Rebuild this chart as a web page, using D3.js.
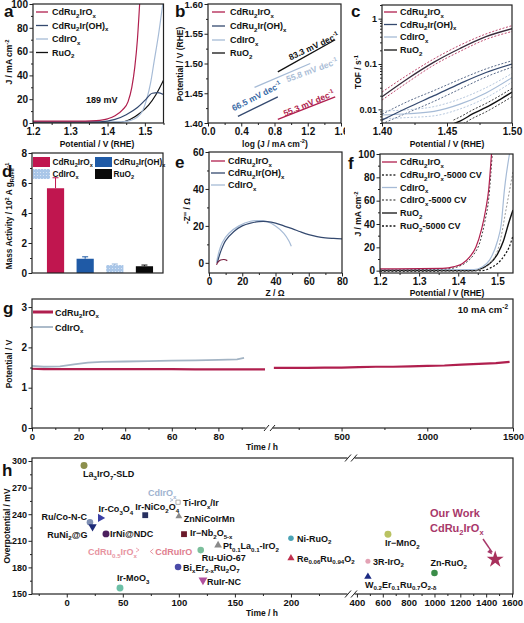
<!DOCTYPE html>
<html><head><meta charset="utf-8">
<script src="https://cdn.jsdelivr.net/npm/d3@7"></script>
<style>
body{margin:0;background:#fff}
svg{display:block}
text{font-family:Arial,"Liberation Sans",sans-serif;font-weight:bold}
</style></head>
<body><svg id="c" width="524" height="623"></svg>
<script>
// ---------------- DATA ----------------
// (a) LSV
const aPot_CdRu2IrOx = [1.20,1.34,1.37,1.40,1.42,1.44,1.455,1.465,1.473,1.48,1.486];
const aJ_CdRu2IrOx   = [1.5,1.6,2.0,3.5,6,11,18,30,47,70,100];
const aPot_CdRu2IrOH = [1.20,1.38,1.42,1.45,1.48,1.50,1.52,1.535,1.55];
const aJ_CdRu2IrOH   = [1.0,1.0,3,7,13,19,25,25.5,24];
const aPot_CdIrOx    = [1.20,1.44,1.46,1.48,1.495,1.505,1.515,1.525,1.537,1.548];
const aJ_CdIrOx      = [1.0,1.0,2,5,11,20,33,52,75,100];
const aPot_RuO2      = [1.20,1.43,1.46,1.49,1.51,1.53,1.55];
const aJ_RuO2        = [0.3,0.5,3,9,15,24,36];
const aLegend = ["CdRu_{2}IrO_{x}","CdRu_{2}Ir(OH)_{x}","CdIrO_{x}","RuO_{2}"];
// (b) Tafel
const bLogJ_CdRu2IrOx = [0.84,1.53]; const bPot_CdRu2IrOx = [1.406,1.444];
const bLogJ_CdRu2IrOH = [0.36,0.84]; const bPot_CdRu2IrOH = [1.411,1.444];
const bLogJ_CdIrOx    = [0.56,1.23]; const bPot_CdIrOx    = [1.460,1.500];
const bLogJ_RuO2      = [0.84,1.53]; const bPot_RuO2      = [1.486,1.540];
const bSlopes = ["55.3","66.5","55.8","83.3"];
// (c) TOF
const cPot = [1.40,1.42,1.44,1.46,1.48,1.50];
const cTOF_CdRu2IrOx   = [0.019,0.048,0.11,0.22,0.40,0.60];
const cTOFhi_CdRu2IrOx = [0.024,0.058,0.13,0.26,0.46,0.70];
const cTOFlo_CdRu2IrOx = [0.016,0.040,0.095,0.19,0.35,0.52];
const cTOF_CdRu2IrOH   = [0.0058,0.011,0.020,0.037,0.065,0.10];
const cTOFhi_CdRu2IrOH = [0.0078,0.015,0.026,0.046,0.078,0.118];
const cTOFlo_CdRu2IrOH = [0.0048,0.0085,0.015,0.028,0.052,0.085];
const cTOF_CdIrOx      = [0.0075,0.008,0.009,0.013,0.023,0.05];
const cTOFhi_CdIrOx    = [0.0092,0.0098,0.0115,0.017,0.030,0.062];
const cTOFlo_CdIrOx    = [0.0062,0.0066,0.0072,0.0102,0.018,0.040];
const cPot_RuO2        = [1.455,1.46,1.47,1.48,1.49,1.50];
const cTOF_RuO2        = [0.0048,0.0055,0.008,0.011,0.016,0.024];
const cTOFhi_RuO2      = [0.0058,0.0068,0.0098,0.0135,0.0195,0.029];
const cTOFlo_RuO2      = [0.0038,0.0044,0.0064,0.0088,0.0128,0.019];
// (d) Mass activity
const dCats = ["CdRu_{2}IrO_{x}","CdRu_{2}Ir(OH)_{x}","CdIrO_{x}","RuO_{2}"];
const dVals = [5.65,0.95,0.53,0.45];
const dErr  = [0.70,0.13,0.07,0.08];
// (e) Nyquist
const eZ_CdRu2IrOx  = [4.5,5.5,7,9,11];
const eZi_CdRu2IrOx = [-1,0.5,1.5,1.8,1.2];
const eZ_CdRu2IrOH  = [5,7,10,15,20,25,30,35,40,45,50,55,60,65,70,75,80];
const eZi_CdRu2IrOH = [0,6,12,17,20,21.5,22.3,22.3,21.5,20,18.5,16.8,15.3,14.2,13.5,13.2,13];
const eZ_CdIrOx     = [4.5,6,8,12,18,25,30,35,40,45,48,49.5];
const eZi_CdIrOx    = [0,6,11,16,20,22.5,22.8,22.3,20,16,12,9];
// (f) stability LSV
const fPot_CdRu2IrOx   = [1.20,1.36,1.39,1.41,1.43,1.445,1.46,1.47,1.478,1.485];
const fJ_CdRu2IrOx     = [1.5,2,3.5,6,12,20,36,52,70,100];
const fPot_CdRu2IrOxCV = [1.20,1.37,1.40,1.42,1.44,1.455,1.468,1.478,1.487];
const fJ_CdRu2IrOxCV   = [0.5,1.5,3.5,7,14,24,42,62,100];
const fPot_CdIrOx      = [1.20,1.44,1.46,1.48,1.50,1.51,1.518,1.531];
const fJ_CdIrOx        = [1,1,3,9,25,40,69,100];
const fPot_CdIrOxCV    = [1.20,1.45,1.47,1.49,1.505,1.522,1.54];
const fJ_CdIrOxCV      = [0.5,0.5,3,10,22,52,85];
const fPot_RuO2        = [1.20,1.44,1.46,1.48,1.50,1.515,1.53,1.54];
const fJ_RuO2          = [0,0,2,6,14,25,42,52];
const fPot_RuO2CV      = [1.20,1.46,1.48,1.50,1.52,1.53,1.54];
const fJ_RuO2CV        = [-0.5,0,2,6,14,20,30];
const fLegend = ["CdRu_{2}IrO_{x}","CdRu_{2}IrO_{x}-5000 CV","CdIrO_{x}","CdIrO_{x}-5000 CV","RuO_{2}","RuO_{2}-5000 CV"];
// (g) chronopotentiometry
const gTime_CdRu2IrOx  = [0,5,10,20,30,40,50,60,70,80,90,100];
const gPot_CdRu2IrOx   = [1.47,1.46,1.46,1.46,1.46,1.46,1.46,1.46,1.455,1.455,1.455,1.455];
const gTime2_CdRu2IrOx = [105,200,300,400,500,600,700,800,900,1000,1100,1200,1300,1400,1480];
const gPot2_CdRu2IrOx  = [1.49,1.49,1.49,1.50,1.50,1.51,1.52,1.52,1.53,1.54,1.55,1.57,1.59,1.61,1.64];
const gTime_CdIrOx     = [0,5,12,18,24,30,40,50,60,70,80,88,91];
const gPot_CdIrOx      = [1.54,1.52,1.53,1.58,1.62,1.64,1.65,1.66,1.67,1.68,1.69,1.70,1.74];
// (h) comparison
const hNames = ["La_{3}IrO_{7}-SLD","Ru/Co-N-C","RuNi_{2}@G","Ir-Co_{3}O_{4}","IrNi@NDC","Ir-NiCo_{2}O_{4}",
  "Ti-IrO_{x}/Ir","ZnNiCoIrMn","Ir−Nb_{2}O_{5-x}","Ru-UiO-67","Pt_{0.1}La_{0.1}-IrO_{2}","Bi_{x}Er_{2-x}Ru_{2}O_{7}",
  "RuIr-NC","Ir-MoO_{3}","Ni-RuO_{2}","Re_{0.06}Ru_{0.94}O_{2}","Ir−MnO_{2}","3R-IrO_{2}","W_{0.2}Er_{0.1}Ru_{0.7}O_{2-δ}","Zn-RuO_{2}"];
const hTime = [15.4,20.7,23,30,35,70,99.3,100,104.6,119.5,135,99.3,121.5,47.5,200,200,640,485,485,1000];
const hOverpot = [295,231,226,235.8,217.8,238.9,253.5,237.7,217.5,199.5,205,180.4,165.7,156.7,213,190.5,217.5,187,169.5,173.6];
const hOurTime = 1470, hOurOverpot = 189;
const hNotes = ["CdIrO_{x}","CdRu_{0.5}IrO_{x}","CdRuIrO"];
const hNoteTime = [72.5,19,79];
const hNoteOverpot = [260,194,194];

// ---------------- STYLE ----------------
const CR = "#b01f4e", NV = "#34496f", LB = "#a6bbd6", BK = "#111";
const svg = d3.select("#c");
svg.append("rect").attr("width",524).attr("height",623).attr("fill","#fff");

function rich(t, s, fs){
  const parts = s.split(/(_\{[^}]*\}|\^\{[^}]*\})/).filter(p=>p.length);
  let cur = 0;
  parts.forEach(p=>{
    let str=p, off=0, small=false;
    if(p.startsWith("_{")){str=p.slice(2,-1);off=0.3*fs;small=true;}
    else if(p.startsWith("^{")){str=p.slice(2,-1);off=-0.4*fs;small=true;}
    const ts=t.append("tspan").text(str).attr("dy",(off-cur).toFixed(2));
    if(small) ts.attr("font-size",(fs*0.68).toFixed(2));
    cur=off;
  });
}
function txt(g,x,y,s,o={}){
  const fs=o.fs||9;
  const t=g.append("text").attr("x",x).attr("y",y).attr("font-size",fs)
    .attr("fill",o.fill||"#111").attr("text-anchor",o.anchor||"start");
  if(o.rot!==undefined) t.attr("transform",`rotate(${o.rot},${x},${y})`);
  rich(t,s,fs);
  return t;
}
function styleAxis(sel,fs){
  sel.attr("font-family","Arial, Liberation Sans, sans-serif").attr("font-weight","bold").attr("font-size",fs);
  sel.selectAll("line").attr("stroke","#222").attr("stroke-width",1);
  sel.selectAll("text").attr("fill","#111");
  sel.select(".domain").remove();
}
function axX(g,x,yPos,ticks,minor,fmt,fs){
  if(minor) g.append("g").attr("transform",`translate(0,${yPos})`)
    .call(d3.axisBottom(x).tickValues(minor).tickSize(2).tickSizeOuter(0).tickFormat(""))
    .call(s=>styleAxis(s,fs));
  g.append("g").attr("transform",`translate(0,${yPos})`)
    .call(d3.axisBottom(x).tickValues(ticks).tickSize(3.5).tickPadding(1.5).tickSizeOuter(0).tickFormat(fmt||(d=>d)))
    .call(s=>styleAxis(s,fs));
}
function axY(g,y,xPos,ticks,minor,fmt,fs){
  if(minor) g.append("g").attr("transform",`translate(${xPos},0)`)
    .call(d3.axisLeft(y).tickValues(minor).tickSize(2).tickSizeOuter(0).tickFormat(""))
    .call(s=>styleAxis(s,fs));
  g.append("g").attr("transform",`translate(${xPos},0)`)
    .call(d3.axisLeft(y).tickValues(ticks).tickSize(3.5).tickPadding(1.5).tickSizeOuter(0).tickFormat(fmt||(d=>d)))
    .call(s=>styleAxis(s,fs));
}
function box(g,x0,x1,y0,y1){
  g.append("rect").attr("x",x0).attr("y",y1).attr("width",x1-x0).attr("height",y0-y1)
    .attr("fill","none").attr("stroke","#222").attr("stroke-width",1.2);
}
let clipN=0;
function clipG(g,x0,x1,y0,y1){
  const id="clip"+(clipN++);
  svg.append("clipPath").attr("id",id).append("rect").attr("x",x0).attr("y",y1).attr("width",x1-x0).attr("height",y0-y1);
  return g.append("g").attr("clip-path",`url(#${id})`);
}
function drawLine(g,x,y,xs,ys,color,o={}){
  const pts=xs.map((v,i)=>[v,ys[i]]);
  const ln=d3.line().x(d=>x(d[0])).y(d=>y(d[1])).curve(o.curve||d3.curveMonotoneX);
  const p=g.append("path").attr("d",ln(pts)).attr("fill","none").attr("stroke",color).attr("stroke-width",o.w||1.2);
  if(o.dash) p.attr("stroke-dasharray",o.dash);
  return p;
}
function legendLines(g,x0,x1,tx,ys,labels,colors,dashes,fs){
  labels.forEach((l,i)=>{
    const ln=g.append("line").attr("x1",x0).attr("x2",x1).attr("y1",ys[i]).attr("y2",ys[i]).attr("stroke",colors[i]).attr("stroke-width",1.3);
    if(dashes&&dashes[i]) ln.attr("stroke-dasharray",dashes[i]);
    txt(g,tx,ys[i]+3.2,l,{fs:fs||9});
  });
}
const fmt1=d3.format(".1f"), fmt2=d3.format(".2f");
const colors4=[CR,NV,LB,BK];

// ---------------- (a) ----------------
{
  const g=svg.append("g");
  const x=d3.scaleLinear().domain([1.2,1.55]).range([33,163.5]);
  const y=d3.scaleLinear().domain([0,100]).range([123,4]);
  const c=clipG(g,33,163.5,123,4);
  drawLine(c,x,y,aPot_RuO2,aJ_RuO2,BK);
  drawLine(c,x,y,aPot_CdIrOx,aJ_CdIrOx,LB);
  drawLine(c,x,y,aPot_CdRu2IrOH,aJ_CdRu2IrOH,NV);
  drawLine(c,x,y,aPot_CdRu2IrOx,aJ_CdRu2IrOx,CR);
  axX(g,x,123,[1.2,1.3,1.4,1.5],[1.25,1.35,1.45,1.55],fmt1,10);
  axY(g,y,33,[0,20,40,60,80,100],[10,30,50,70,90],null,10);
  box(g,33,163.5,123,4);
  legendLines(g,36,48,52,[12,25.5,39,52.5],aLegend,colors4,null,9);
  txt(g,86,102.5,"189 mV",{fs:9});
  txt(g,97,146.5,"Potential / V (RHE)",{fs:8.5,anchor:"middle"});
  txt(g,12,62,"J / mA cm^{-2}",{fs:8.5,anchor:"middle",rot:-90});
  txt(g,4,17,"a",{fs:17});
}
// ---------------- (b) ----------------
{
  const g0=svg.append("g");
  const g=clipG(g0,170,345,160,0);
  const x=d3.scaleLinear().domain([0,1.6]).range([208,341]);
  const y=d3.scaleLinear().domain([1.40,1.60]).range([123,4]);
  const sets=[[bLogJ_CdRu2IrOx,bPot_CdRu2IrOx,CR],[bLogJ_CdRu2IrOH,bPot_CdRu2IrOH,NV],[bLogJ_CdIrOx,bPot_CdIrOx,LB],[bLogJ_RuO2,bPot_RuO2,BK]];
  sets.forEach(s=>drawLine(g,x,y,s[0],s[1],s[2],{curve:d3.curveLinear,w:1.3}));
  axX(g,x,123,[0,0.4,0.8,1.2,1.6],[0.2,0.6,1.0,1.4],fmt1,10);
  axY(g,y,208,[1.40,1.45,1.50,1.55,1.60],[1.425,1.475,1.525,1.575],fmt2,9.5);
  box(g,208,341,123,4);
  legendLines(g,212,225,230,[12,26,40,53],aLegend,colors4,null,9);
  const slopeCol=[CR,"#3a6aa6","#aabdd6",BK];
  const pos=[[310,106,-23],[258,99,-27],[313,73,-20],[315,49,-25]];
  bSlopes.forEach((s,i)=>txt(g,pos[i][0],pos[i][1],s+" mV dec^{-1}",{fs:8.5,anchor:"middle",rot:pos[i][2],fill:slopeCol[i]}));
  txt(g,275,146.5,"log (J / mA cm^{-2})",{fs:8.5,anchor:"middle"});
  txt(g,183,64,"Potential / V (RHE)",{fs:8.5,anchor:"middle",rot:-90});
  txt(g,175,17,"b",{fs:17});
}
// ---------------- (c) ----------------
{
  const g=svg.append("g");
  const x=d3.scaleLinear().domain([1.40,1.50]).range([382,512]);
  const y=d3.scaleLog().domain([0.005,2]).range([123,5]);
  const c=clipG(g,382,512,123,5);
  const dash="2,1.6";
  [[cPot,cTOFhi_CdRu2IrOx,CR],[cPot,cTOFlo_CdRu2IrOx,CR],[cPot,cTOFhi_CdRu2IrOH,NV],[cPot,cTOFlo_CdRu2IrOH,NV],
   [cPot,cTOFhi_CdIrOx,LB],[cPot,cTOFlo_CdIrOx,LB],[cPot_RuO2,cTOFhi_RuO2,BK],[cPot_RuO2,cTOFlo_RuO2,BK]]
   .forEach(s=>drawLine(c,x,y,s[0],s[1],s[2],{dash:dash,w:0.8}));
  drawLine(c,x,y,cPot_RuO2,cTOF_RuO2,BK,{w:1.4});
  drawLine(c,x,y,cPot,cTOF_CdIrOx,LB,{w:1.2});
  drawLine(c,x,y,cPot,cTOF_CdRu2IrOH,NV,{w:1.3});
  drawLine(c,x,y,cPot,cTOF_CdRu2IrOx,"#3a2a3a",{w:1.3});
  const minor=[];
  [0.001,0.01,0.1,1].forEach(d=>{for(let k=2;k<10;k++){const v=d*k;if(v>=0.005&&v<=2)minor.push(v);}});
  axX(g,x,123,[1.40,1.45,1.50],[1.425,1.475],fmt2,10);
  axY(g,y,382,[0.01,0.1,1],minor,d=>(d>=1?"1":d===0.1?"0.1":"0.01"),9);
  box(g,382,512,123,5);
  legendLines(g,384,397,400,[12,24.5,37,50],aLegend,[CR,NV,LB,BK],null,9);
  txt(g,447,146.5,"Potential / V (RHE)",{fs:8.5,anchor:"middle"});
  txt(g,361,72,"TOF / s^{-1}",{fs:8.5,anchor:"middle",rot:-90});
  txt(g,351,17,"c",{fs:17});
}
// ---------------- (d) ----------------
{
  const g=svg.append("g");
  const x=d3.scaleBand().domain(dCats).range([32,163]).paddingInner(0.42).paddingOuter(0.42).align(0.6);
  const y=d3.scaleLinear().domain([0,8]).range([273,153]);
  const fills=["#c0164f","#1f5aa6","#a9c6e8","#0a0a0a"];
  const defs=svg.append("defs");
  const pat=defs.append("pattern").attr("id","dots").attr("width",3).attr("height",3).attr("patternUnits","userSpaceOnUse");
  pat.append("rect").attr("width",3).attr("height",3).attr("fill","#a9c6e8");
  pat.append("circle").attr("cx",1.5).attr("cy",1.5).attr("r",0.6).attr("fill","#dfeaf7");
  const fillOf=i=>i===2?"url(#dots)":fills[i];
  dCats.forEach((cName,i)=>{
    const bx=x(cName), bw=x.bandwidth(), top=y(dVals[i]), et=y(dVals[i]+dErr[i]);
    g.append("rect").attr("x",bx).attr("y",top).attr("width",bw).attr("height",273-top).attr("fill",fillOf(i));
    const cx=bx+bw/2, col=i===0?"#c0164f":(i===1?"#1f5aa6":(i===2?"#8fb0d8":"#111"));
    g.append("line").attr("x1",cx).attr("x2",cx).attr("y1",top).attr("y2",et).attr("stroke",col).attr("stroke-width",1);
    g.append("line").attr("x1",cx-3).attr("x2",cx+3).attr("y1",et).attr("y2",et).attr("stroke",col).attr("stroke-width",1);
  });
  axY(g,y,32,[0,2,4,6,8],[1,3,5,7],null,10);
  box(g,32,163,273,153);
  const lx=[33,95], ly=[157,169], tx=[52.5,113.5];
  dCats.forEach((cName,i)=>{
    const cx=lx[i%2], cy=ly[Math.floor(i/2)];
    g.append("rect").attr("x",cx).attr("y",cy).attr("width",17).attr("height",10).attr("fill",fillOf(i));
    txt(g,tx[i%2],cy+8,cName,{fs:8.3});
  });
  txt(g,12,216,"Mass Activity / 10^{2} A g_{Ru+Ir}^{-1}",{fs:8.3,anchor:"middle",rot:-90});
  txt(g,2,177,"d",{fs:17});
}
// ---------------- (e) ----------------
{
  const g=svg.append("g");
  const x=d3.scaleLinear().domain([0,80]).range([209,342]);
  const y=d3.scaleLinear().domain([-5.5,60]).range([273,152]);
  const c=clipG(g,209,342,273,152);
  drawLine(c,x,y,eZ_CdIrOx,eZi_CdIrOx,LB,{curve:d3.curveCatmullRom});
  drawLine(c,x,y,eZ_CdRu2IrOH,eZi_CdRu2IrOH,NV,{curve:d3.curveCatmullRom});
  drawLine(c,x,y,eZ_CdRu2IrOx,eZi_CdRu2IrOx,"#7a2040",{curve:d3.curveCatmullRom});
  axX(g,x,273,[0,20,40,60,80],[10,30,50,70],null,10);
  axY(g,y,209,[0,20,40,60],[10,30,50],null,10);
  box(g,209,342,273,152);
  legendLines(g,211,225,228,[161,173,185],aLegend.slice(0,3),[CR,NV,LB],null,9);
  txt(g,275,296,"Z / Ω",{fs:8.5,anchor:"middle"});
  txt(g,190,211,"-Z'' / Ω",{fs:8.5,anchor:"middle",rot:-90});
  txt(g,175,168,"e",{fs:17});
}
// ---------------- (f) ----------------
{
  const g=svg.append("g");
  const x=d3.scaleLinear().domain([1.2,1.54]).range([380,513]);
  const y=d3.scaleLinear().domain([-2,100]).range([273,154]);
  const c=clipG(g,380,513,273,154);
  const dd="2,1.8";
  drawLine(c,x,y,fPot_RuO2CV,fJ_RuO2CV,BK,{dash:dd,w:1.2});
  drawLine(c,x,y,fPot_RuO2,fJ_RuO2,BK,{w:1.4});
  drawLine(c,x,y,fPot_CdIrOxCV,fJ_CdIrOxCV,"#999",{dash:dd,w:1});
  drawLine(c,x,y,fPot_CdIrOx,fJ_CdIrOx,LB,{w:1.2});
  drawLine(c,x,y,fPot_CdRu2IrOxCV,fJ_CdRu2IrOxCV,"#444",{dash:dd,w:1});
  drawLine(c,x,y,fPot_CdRu2IrOx,fJ_CdRu2IrOx,CR,{w:1.2});
  axX(g,x,273,[1.2,1.3,1.4,1.5],[1.25,1.35,1.45],fmt1,10);
  axY(g,y,380,[0,20,40,60,80,100],[10,30,50,70,90],null,10);
  box(g,380,513,273,154);
  legendLines(g,382,397,400,[162,175,187.5,200,213,226],fLegend,[CR,"#333",LB,"#666",BK,BK],[null,"2,1.8",null,"2,1.8",null,"2,1.8"],9);
  txt(g,447,296,"Potential / V (RHE)",{fs:8.5,anchor:"middle"});
  txt(g,361,214,"J / mA cm^{-2}",{fs:8.5,anchor:"middle",rot:-90});
  txt(g,348,169,"f",{fs:17});
}
// ---------------- (g) ----------------
{
  const g=svg.append("g");
  const xL=d3.scaleLinear().domain([0,100]).range([32,265]);
  const xR=d3.scaleLinear().domain([100,1500]).range([273,513]);
  const y=d3.scaleLinear().domain([0,3.2]).range([428,299]);
  drawLine(g,xL,y,gTime_CdIrOx,gPot_CdIrOx,"#a3b4c4",{w:1.8,curve:d3.curveLinear});
  drawLine(g,xL,y,gTime_CdRu2IrOx,gPot_CdRu2IrOx,CR,{w:2.2,curve:d3.curveLinear});
  drawLine(g,xR,y,gTime2_CdRu2IrOx,gPot2_CdRu2IrOx,CR,{w:2.2,curve:d3.curveLinear});
  axX(g,xL,428,[0,20,40,60,80],[10,30,50,70,90],null,9.5);
  axX(g,xR,428,[500,1000,1500],[250,750,1250],null,9.5);
  axY(g,y,32,[0,1,2,3],[0.5,1.5,2.5],null,10);
  box(g,32,513,428,299);
  g.append("rect").attr("x",265.5).attr("y",425).attr("width",7).attr("height",6).attr("fill","#fff");
  [264,270].forEach(xx=>g.append("line").attr("x1",xx).attr("x2",xx+5).attr("y1",431).attr("y2",425).attr("stroke","#222").attr("stroke-width",1));
  g.append("line").attr("x1",33).attr("x2",53).attr("y1",312).attr("y2",312).attr("stroke",CR).attr("stroke-width",3);
  txt(g,55,315.5,"CdRu_{2}IrO_{x}",{fs:9});
  g.append("line").attr("x1",33).attr("x2",53).attr("y1",327).attr("y2",327).attr("stroke","#a3b4c4").attr("stroke-width",1.8);
  txt(g,55,330.5,"CdIrO_{x}",{fs:9});
  txt(g,508,313,"10 mA cm^{-2}",{fs:9.5,anchor:"end"});
  txt(g,262,450,"Time / h",{fs:8.5,anchor:"middle"});
  txt(g,12,364,"Potential / V",{fs:8.5,anchor:"middle",rot:-90});
  txt(g,3,314,"g",{fs:17});
}
// ---------------- (h) ----------------
{
  const g=svg.append("g");
  const xL=d3.scaleLinear().domain([-31,250]).range([32,347]);
  const xR=d3.scaleLinear().domain([385,1600]).range([355,512]);
  const y=d3.scaleLinear().domain([150,303.4]).range([594,458]);
  const xOf=t=>t<=300?xL(t):xR(t);
  const sty={ // color, symbol, filled, size, rotation
    "La_{3}IrO_{7}-SLD":["#8c8f4c",d3.symbolCircle,1,38],
    "Ru/Co-N-C":["#7f8fb3",d3.symbolCircle,1,34],
    "RuNi_{2}@G":["#1d2a78",d3.symbolTriangle,1,30,180],
    "Ir-Co_{3}O_{4}":["#3a3ea4",d3.symbolTriangle,1,30,90],
    "IrNi@NDC":["#4c1f5e",d3.symbolCircle,1,38],
    "Ir-NiCo_{2}O_{4}":["#283060",d3.symbolSquare,1,34],
    "Ti-IrO_{x}/Ir":["#999",d3.symbolSquare,0,18],
    "ZnNiCoIrMn":["#8a8a8a",d3.symbolTriangle,1,20],
    "Ir−Nb_{2}O_{5-x}":["#6b1a2a",d3.symbolSquare,1,34],
    "Ru-UiO-67":["#7cbf9c",d3.symbolCircle,1,34],
    "Pt_{0.1}La_{0.1}-IrO_{2}":["#8a8a8a",d3.symbolTriangle,1,26],
    "Bi_{x}Er_{2-x}Ru_{2}O_{7}":["#4a4aa8",d3.symbolCircle,1,34],
    "RuIr-NC":["#b0509e",d3.symbolTriangle,1,34,180],
    "Ir-MoO_{3}":["#6cbfa6",d3.symbolCircle,1,38],
    "Ni-RuO_{2}":["#4ba3b5",d3.symbolCircle,1,24],
    "Re_{0.06}Ru_{0.94}O_{2}":["#c0304e",d3.symbolTriangle,1,22],
    "Ir−MnO_{2}":["#b9c262",d3.symbolCircle,1,38],
    "3R-IrO_{2}":["#e3a2b4",d3.symbolCircle,1,20],
    "W_{0.2}Er_{0.1}Ru_{0.7}O_{2-δ}":["#1b2a82",d3.symbolTriangle,1,24],
    "Zn-RuO_{2}":["#3a8c48",d3.symbolCircle,1,34]
  };
  const lab={ // dx, dy, anchor
    "La_{3}IrO_{7}-SLD":[-1,12,"start"],"Ru/Co-N-C":[-3,-2,"end"],"RuNi_{2}@G":[-5,11,"end"],
    "Ir-Co_{3}O_{4}":[-2,-6,"start"],"IrNi@NDC":[4,3.5,"start"],"Ir-NiCo_{2}O_{4}":[-10,-5,"start"],
    "Ti-IrO_{x}/Ir":[5,4,"start"],"ZnNiCoIrMn":[5,5.5,"start"],"Ir−Nb_{2}O_{5-x}":[6,2,"start"],
    "Ru-UiO-67":[1,11,"start"],"Pt_{0.1}La_{0.1}-IrO_{2}":[5,4,"start"],"Bi_{x}Er_{2-x}Ru_{2}O_{7}":[5,3.5,"start"],
    "RuIr-NC":[4,4.5,"start"],"Ir-MoO_{3}":[-3,-7,"start"],"Ni-RuO_{2}":[6,3.5,"start"],
    "Re_{0.06}Ru_{0.94}O_{2}":[6,3.5,"start"],"Ir−MnO_{2}":[-3,12,"start"],"3R-IrO_{2}":[5,3.5,"start"],
    "W_{0.2}Er_{0.1}Ru_{0.7}O_{2-δ}":[-3,11,"start"],"Zn-RuO_{2}":[-4,-7,"start"]
  };
  hNames.forEach((n,i)=>{
    const s=sty[n], px=xOf(hTime[i]), py=y(hOverpot[i]);
    const sym=g.append("path").attr("d",d3.symbol(s[1],s[3])()).attr("transform",`translate(${px},${py}) rotate(${s[4]||0})`);
    if(s[2]) sym.attr("fill",s[0]); else sym.attr("fill","#fff").attr("stroke",s[0]).attr("stroke-width",0.8);
    const l=lab[n];
    txt(g,px+l[0],py+l[1],n,{fs:9,anchor:l[2]});
  });
  const noteCol=["#9fb3d0","#e7939f","#e0808f"];
  hNotes.forEach((n,i)=>txt(g,xL(hNoteTime[i]),y(hNoteOverpot[i]),n,{fs:9,fill:noteCol[i]}));
  g.append("path").attr("d",`M${xL(hNoteTime[1])+48},${y(hNoteOverpot[1])-7} l3,2 l-3,2`).attr("fill","none").attr("stroke","#e7939f").attr("stroke-width",0.8);
  g.append("path").attr("d",`M${xL(hNoteTime[2])-2},${y(hNoteOverpot[2])-6} l-3,2.5 l3,2.5`).attr("fill","none").attr("stroke","#e0808f").attr("stroke-width",0.8);
  g.append("path").attr("d",`M${xL(hNoteTime[0])+22},${y(hNoteOverpot[0])+2} l3,1.5 l-3,1.5`).attr("fill","none").attr("stroke","#9fb3d0").attr("stroke-width",0.8);
  const sx=xR(hOurTime), sy=y(hOurOverpot);
  g.append("path").attr("d",d3.symbol(d3.symbolStar,90)()).attr("transform",`translate(${sx},${sy})`).attr("fill","#a8305c");
  txt(g,430,517,"Our Work",{fs:11,fill:"#a8386a"});
  txt(g,430,532,"CdRu_{2}IrO_{x}",{fs:11,fill:"#a8386a"});
  g.append("line").attr("x1",483).attr("y1",539).attr("x2",sx-3).attr("y2",sy-7).attr("stroke","#a8386a").attr("stroke-width",1.5);
  g.append("path").attr("d",`M${sx-3},${sy-5} l-5,-2.5 l3,-3 z`).attr("fill","#a8386a");
  axX(g,xL,594,[0,50,100,150,200],[-25,25,75,125,175,225],null,9.5);
  axX(g,xR,594,[400,600,800,1000,1200,1400,1600],[500,700,900,1100,1300,1500],null,9.5);
  axY(g,y,32,[150,180,210,240,270,300],[165,195,225,255,285],null,9);
  box(g,32,513,594,458);
  [458,594].forEach(yy=>{
    g.append("rect").attr("x",347.5).attr("y",yy-3).attr("width",7).attr("height",6).attr("fill","#fff");
    [345,351].forEach(xx=>g.append("line").attr("x1",xx).attr("x2",xx+6).attr("y1",yy+3.5).attr("y2",yy-3.5).attr("stroke","#222").attr("stroke-width",1));
  });
  txt(g,262,616,"Time / h",{fs:8.5,anchor:"middle"});
  txt(g,10,526,"Overpotential / mV",{fs:8.5,anchor:"middle",rot:-90});
  txt(g,2,476,"h",{fs:17});
}
</script></body></html>
